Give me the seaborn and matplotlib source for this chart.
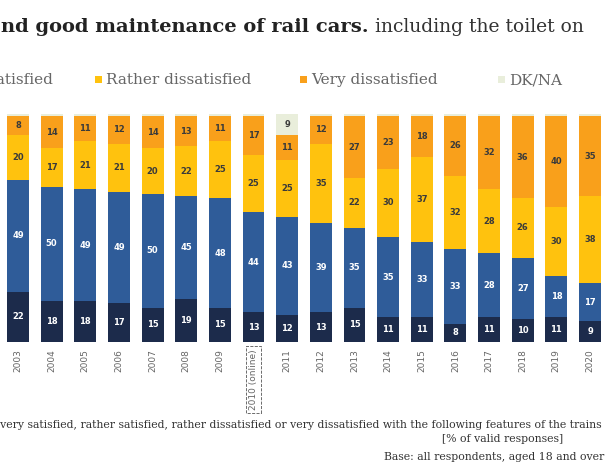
import matplotlib
matplotlib.use("Agg")
import matplotlib.pyplot as plt
import seaborn as sns
import numpy as np
from matplotlib.patches import Rectangle

# ---- data (percent) ----
periods = ["2003", "2004", "2005", "2006", "2007", "2008", "2009", "2010 (online)",
           "2011", "2012", "2013", "2014", "2015", "2016", "2017", "2018", "2019", "2020"]
very_satisfied = [22, 18, 18, 17, 15, 19, 15, 13, 12, 13, 15, 11, 11, 8, 11, 10, 11, 9]
rather_satisfied = [49, 50, 49, 49, 50, 45, 48, 44, 43, 39, 35, 35, 33, 33, 28, 27, 18, 17]
rather_dissatisfied = [20, 17, 21, 21, 20, 22, 25, 25, 25, 35, 22, 30, 37, 32, 28, 26, 30, 38]
very_dissatisfied = [8, 14, 11, 12, 14, 13, 11, 17, 11, 12, 27, 23, 18, 26, 32, 36, 40, 35]
dk_na = [1, 1, 1, 1, 1, 1, 1, 1, 9, 1, 1, 1, 1, 1, 1, 1, 1, 1]

series_names = ["Very satisfied", "Rather satisfied", "Rather dissatisfied",
                "Very dissatisfied", "DK/NA"]
colors = ["#1c2b4b", "#2f5c99", "#ffc20e", "#f9a01b", "#e9eedb"]
label_colors = ["white", "white", "#3a3a3a", "#3a3a3a", "#3a3a3a"]

layers = [very_satisfied, rather_satisfied, rather_dissatisfied, very_dissatisfied, dk_na]

sns.set_theme(style="white")
plt.rcParams["font.family"] = ["DejaVu Serif", "DejaVu Sans"]

W, H = 615, 473
fig = plt.figure(figsize=(W / 100, H / 100), dpi=100)
fig.patch.set_facecolor("white")

# axes placement: bar 1 centre at x=18 px, bar 18 at x=590 px; 0% at y=342, 100% at y=114
ppu = (590 - 18) / 17.0
x_left = 18 - 0.5 * ppu
x_right = 590 + 0.5 * ppu
ax = fig.add_axes([x_left / W, (H - 342) / H, (x_right - x_left) / W, 228 / H])

arr = np.array(layers, dtype=float)
cum = np.cumsum(arr, axis=0)

for i in reversed(range(len(layers))):
    sns.barplot(x=periods, y=cum[i], order=periods, color=colors[i], saturation=1,
                width=0.65, ax=ax, edgecolor="none", linewidth=0)

# segment labels
for i in range(len(layers)):
    for j in range(len(periods)):
        v = arr[i, j]
        if v >= 5:
            bottom = cum[i, j] - v
            ax.text(j, bottom + v / 2, f"{int(v)}", ha="center", va="center",
                    fontsize=6, fontweight="bold", color=label_colors[i],
                    family="DejaVu Sans")

ax.set_xlim(-0.5, len(periods) - 0.5)
ax.set_ylim(0, 100)
ax.set_ylabel("")
ax.set_xlabel("")
ax.set_yticks([])
for s in ax.spines.values():
    s.set_visible(False)
ax.set_xticks(range(len(periods)))
ax.set_xticklabels(periods, rotation=90, fontsize=6.5, color="#666666",
                   family="DejaVu Sans")
ax.tick_params(axis="x", length=0, pad=5)
tl = ax.get_xticklabels()[7]
tl.set_bbox(dict(boxstyle="square,pad=0.35", fc="none", ec="#555555",
                 ls="--", lw=0.6))

fig.canvas.draw()
renderer = fig.canvas.get_renderer()

# ---- title (cropped at left) ----
t1 = fig.text(1 / W, 1 - 27 / H, "nd good maintenance of rail cars.", fontsize=14,
              fontweight="bold", color="#222222", va="center", ha="left")
bb = t1.get_window_extent(renderer=renderer)
fig.text((bb.x1 + 6) / W, 1 - 27 / H, "including the toilet on", fontsize=13.5,
         color="#333333", va="center", ha="left")

# ---- legend (manually laid out, first entries cut at left edge) ----
leg_y = 1 - 80 / H
leg_fs = 11
mk = 7


def legend_entry(x_marker, name, col, right_end=None):
    if right_end is not None:
        t = fig.text(right_end / W, leg_y, name, fontsize=leg_fs, color="#666666",
                     va="center", ha="right")
        b = t.get_window_extent(renderer=renderer)
        x_marker = b.x0 - mk - 4
    else:
        t = fig.text((x_marker + mk + 4) / W, leg_y, name, fontsize=leg_fs,
                     color="#666666", va="center", ha="left")
    fig.patches.append(Rectangle((x_marker / W, leg_y - (mk / 2) / H), mk / W, mk / H,
                                 transform=fig.transFigure, facecolor=col,
                                 edgecolor="none"))
    return x_marker


xm = legend_entry(None, series_names[1], colors[1], right_end=53)
t_vs = fig.text((xm - 40) / W, leg_y, series_names[0], fontsize=leg_fs,
                color="#666666", va="center", ha="right")
legend_entry(95, series_names[2], colors[2])
legend_entry(300, series_names[3], colors[3])
legend_entry(498, series_names[4], colors[4])

# ---- footnote ----
fig.text(602 / W, 1 - 425 / H,
         "Are you very satisfied, rather satisfied, rather dissatisfied or very dissatisfied "
         "with the following features of the trains",
         fontsize=7.8, color="#333333", ha="right", va="center")
fig.text(503 / W, 1 - 439 / H, "[% of valid responses]", fontsize=7.8,
         color="#333333", ha="center", va="center")
fig.text(494 / W, 1 - 457 / H, "Base: all respondents, aged 18 and over",
         fontsize=7.8, color="#333333", ha="center", va="center")

fig.savefig("out.png", dpi=100)
